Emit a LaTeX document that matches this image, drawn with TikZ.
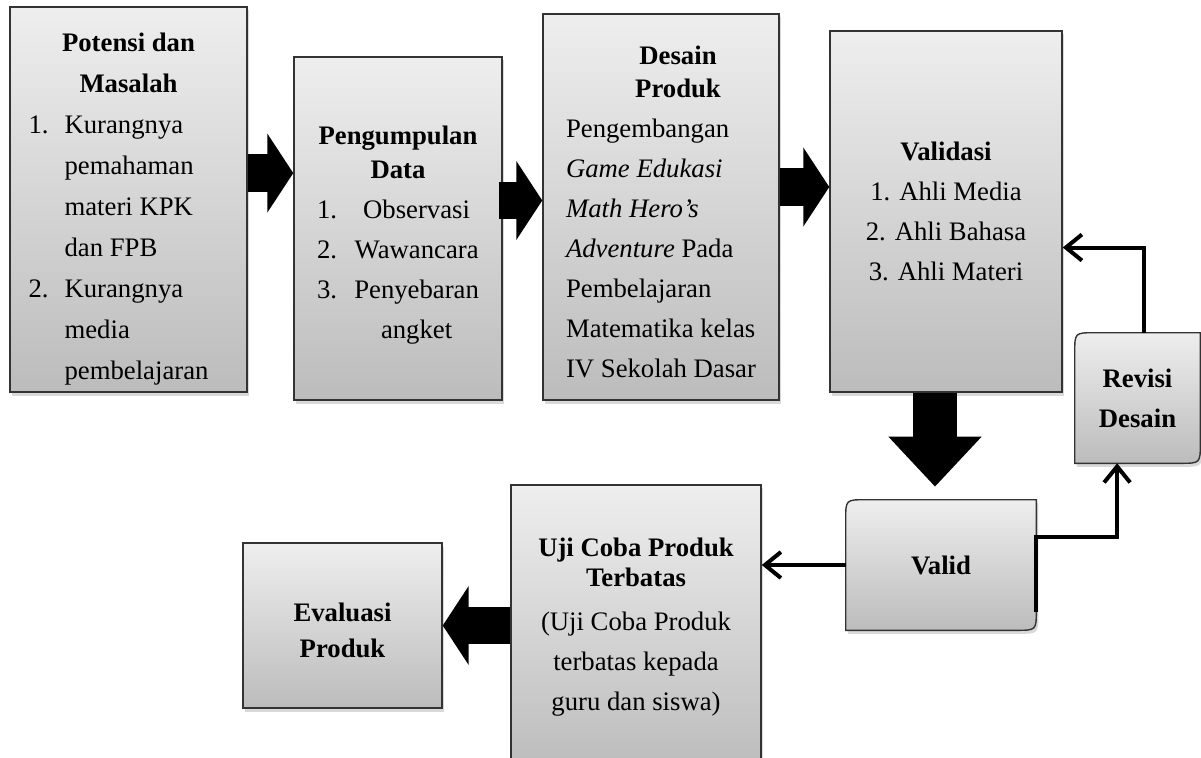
\documentclass[tikz,border=0pt]{standalone}
\usepackage{fontspec}
\setmainfont{Liberation Serif}
\usetikzlibrary{arrows.meta, positioning, calc, shadows, backgrounds}
\definecolor{inkatas}{HTML}{EEEEEE}
\definecolor{inkbawah}{HTML}{BCBCBC}
\definecolor{inktepi}{HTML}{333333}
\tikzset{
  tahap/.style={draw=inktepi, line width=1pt, top color=inkatas, bottom color=inkbawah,
    drop shadow={shadow xshift=1.5pt, shadow yshift=-2.5pt, opacity=0.3},
    inner sep=0pt, align=center},
  polos/.style={inner sep=0pt, align=center},
  blok/.style={line width=0.93cm, -{Triangle[length=0.65cm, width=1.95cm]}},
  turun/.style={line width=1.1cm, -{Triangle[length=1.25cm, width=2.25cm]}},
  garis/.style={line width=1mm, -{Straight Barb[length=4mm, width=6.5mm]}},
}
\newcommand{\sudutbulat}[1]{%
  \path[tahap] ([yshift=-0.5cm]#1.north west) .. controls (#1.north west) .. ([xshift=0.5cm]#1.north west)
    -- (#1.north east) -- ([yshift=0.5cm]#1.south east)
    .. controls (#1.south east) .. ([xshift=-0.5cm]#1.south east)
    -- (#1.south west) -- cycle;}

\begin{document}
\begin{tikzpicture}[x=0.025cm, y=0.025cm, font=\fontsize{19}{28.5}\selectfont]
  \useasboundingbox (0,0) rectangle (1201,-757);
  \clip (0,0) rectangle (1201,-757);
  \node[tahap, minimum width=5.925cm, minimum height=9.625cm,
        font=\fontsize{19}{29.2}\selectfont] (potensi) at (128.5,-199.5)
    {\rule{0pt}{1.1cm}\textbf{Potensi dan}\\\textbf{Masalah}\\
     \begin{tabular}[t]{@{}l@{\hspace{0.4cm}}l@{}}
       1.&Kurangnya\\&pemahaman\\&materi KPK\\&dan FPB\\
       2.&Kurangnya\\&media\\&pembelajaran
     \end{tabular}\hspace*{0.5cm}};
  \node[tahap, minimum width=5.2cm, minimum height=8.575cm] (pengumpulan) at (398,-228.5)
    {\rule{0pt}{0.95cm}\textbf{Pengumpulan}\\[-4pt]\textbf{Data}\\
     \begin{tabular}[t]{@{}l@{\hspace{0.43cm}}c@{}}
       1.&Observasi\\2.&Wawancara\\3.&Penyebaran\\&angket
     \end{tabular}};
  \node[tahap, minimum width=5.9cm, minimum height=9.65cm] (desain) at (661,-207)
    {\rule{0pt}{1.0cm}\hspace*{0.85cm}\textbf{Desain}\\[-5pt]\hspace*{0.85cm}\textbf{Produk}\\
     \begin{tabular}[t]{@{}l@{}}
       Pengembangan\\\textit{Game Edukasi}\\\textit{Math Hero's}\\\textit{Adventure} Pada\\
       Pembelajaran\\Matematika kelas\\IV Sekolah Dasar
     \end{tabular}};
  \node[tahap, minimum width=5.8cm, minimum height=9.025cm] (validasi) at (946,-211.5)
    {\textbf{Validasi}\\1. Ahli Media\\2. Ahli Bahasa\\3. Ahli Materi};
  \node[polos, minimum width=3.125cm, minimum height=3.25cm] (revisi) at (1137.5,-398)
    {\textbf{Revisi}\\\textbf{Desain}};
  \node[polos, minimum width=4.75cm, minimum height=3.25cm] (valid) at (941,-565)
    {\textbf{Valid}};
  \node[tahap, minimum width=6.25cm, minimum height=7.1cm] (uji) at (636,-627)
    {\textbf{Uji Coba Produk}\\[-7pt]\textbf{Terbatas}\\[3pt](Uji Coba Produk\\
     terbatas kepada\\guru dan siswa)};
  \node[tahap, minimum width=4.975cm, minimum height=4.125cm] (evaluasi) at (342.5,-625.5)
    {\rule{0pt}{0.7cm}\textbf{Evaluasi}\\[-3pt]\textbf{Produk}};
  \begin{scope}[on background layer]
    \sudutbulat{valid}
    \sudutbulat{revisi}
  \end{scope}

  \coordinate (a1) at ([yshift=0.66cm]potensi.east);
  \coordinate (a2) at ([xshift=-0.1cm, yshift=0.7cm]pengumpulan.east);
  \coordinate (a3) at ([yshift=0.5cm]desain.east);
  \coordinate (a4) at ([xshift=-0.275cm]validasi.south);
  \coordinate (a4e) at ([yshift=0.325cm]valid.north);
  \draw[blok] (a1) -- (a1 -| pengumpulan.west);
  \draw[blok] (a2) -- (a2 -| desain.west);
  \draw[blok] (a3) -- (a3 -| validasi.west);
  \draw[turun] (a4) -- (a4 |- a4e);
  \draw[blok] (uji.west |- evaluasi.east) -- (evaluasi.east);
  \draw[garis] (valid.west) -- (valid.west -| uji.east);
  \draw[garis] ([yshift=-1.175cm]valid.east) -- ([yshift=0.7cm]valid.east)
    -| ([xshift=-0.51cm]revisi.south);
  \draw[garis] ([xshift=0.15cm]revisi.north) |- ([yshift=-0.9cm]validasi.east);
\end{tikzpicture}
\end{document}
